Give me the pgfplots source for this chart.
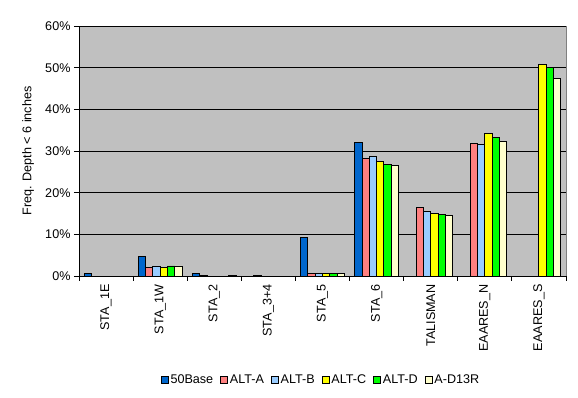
\documentclass[border=0pt]{standalone}
\usepackage{pgfplots}
\pgfplotsset{compat=1.18}
\usepackage{fontspec}
\setmainfont{Liberation Sans}
\definecolor{cBase}{HTML}{0066CC}
\definecolor{cA}{HTML}{FF8080}
\definecolor{cB}{HTML}{99CCFF}
\definecolor{cC}{HTML}{FFFF00}
\definecolor{cD}{HTML}{00FF00}
\definecolor{cR}{HTML}{FFFFCC}
\definecolor{silver}{HTML}{C0C0C0}
\newcommand{\cf}{\fontsize{12.6}{14}\selectfont}
\begin{document}
\begin{tikzpicture}
\useasboundingbox (-79pt,-122pt) rectangle (499pt,276pt);
\begin{axis}[
  at={(0,0)}, anchor=south west,
  scale only axis, width=487pt, height=250pt,
  ybar=0pt, bar width=7.3pt,
  xmin=-0.5, xmax=8.5, ymin=0, ymax=60,
  xtick={0,...,8},
  xticklabels={STA\_1E,STA\_1W,STA\_2,STA\_3+4,STA\_5,STA\_6,TALISMAN,EAARES\_N,EAARES\_S},
  xticklabel style={rotate=90, anchor=east, font=\cf},
  major x tick style={draw=none},
  minor xtick={-0.5,0.5,...,8.5},
  minor tick length=5pt,
  ytick={0,10,...,60},
  yticklabel={\pgfmathprintnumber{\tick}\%},
  yticklabel style={font=\cf},
  /pgf/number format/assume math mode=true,
  major tick length=5pt,
  tick align=outside,
  tick style={black, line width=0.8pt},
  ymajorgrids, major grid style={black, line width=0.8pt},
  axis lines*=left,
  axis line style={black, line width=0.8pt},
  axis background/.style={fill=silver, draw=gray, line width=0.8pt},
  ylabel={Freq. Depth < 6 inches},
  every axis y label/.style={at={(axis description cs:-0.1047,0.5)}, rotate=90, anchor=center, font=\cf},
  legend columns=6,
  legend style={draw=none, fill=none, at={(axis description cs:0.497,-0.416)}, anchor=center,
    font=\cf, /tikz/every even column/.append style={column sep=5pt}},
  legend image code/.code={\draw[#1, draw=black, line width=0.7pt] (0pt,-3.5pt) rectangle (7pt,3.5pt);},
  every axis plot/.append style={draw=black, line width=0.9pt},
]
\addplot[fill=cBase] coordinates {(0,0.5) (1,4.6) (2,0.7) (4,9.3) (5,32.1)};
\addplot[fill=cA] coordinates {(1,2.0) (2,0.2) (3,0.2) (4,0.6) (5,28.2) (6,16.5) (7,31.8)};
\addplot[fill=cB] coordinates {(1,2.4) (4,0.6) (5,28.7) (6,15.5) (7,31.6)};
\addplot[fill=cC] coordinates {(1,2.0) (4,0.6) (5,27.5) (6,15.0) (7,34.2) (8,50.8)};
\addplot[fill=cD] coordinates {(1,2.4) (4,0.6) (5,26.8) (6,14.8) (7,33.3) (8,50.1)};
\addplot[fill=cR] coordinates {(1,2.4) (2,0.2) (4,0.6) (5,26.6) (6,14.6) (7,32.3) (8,47.4)};
\legend{50Base,ALT-A,ALT-B,ALT-C,ALT-D,A-D13R}
\end{axis}
\end{tikzpicture}
\end{document}
